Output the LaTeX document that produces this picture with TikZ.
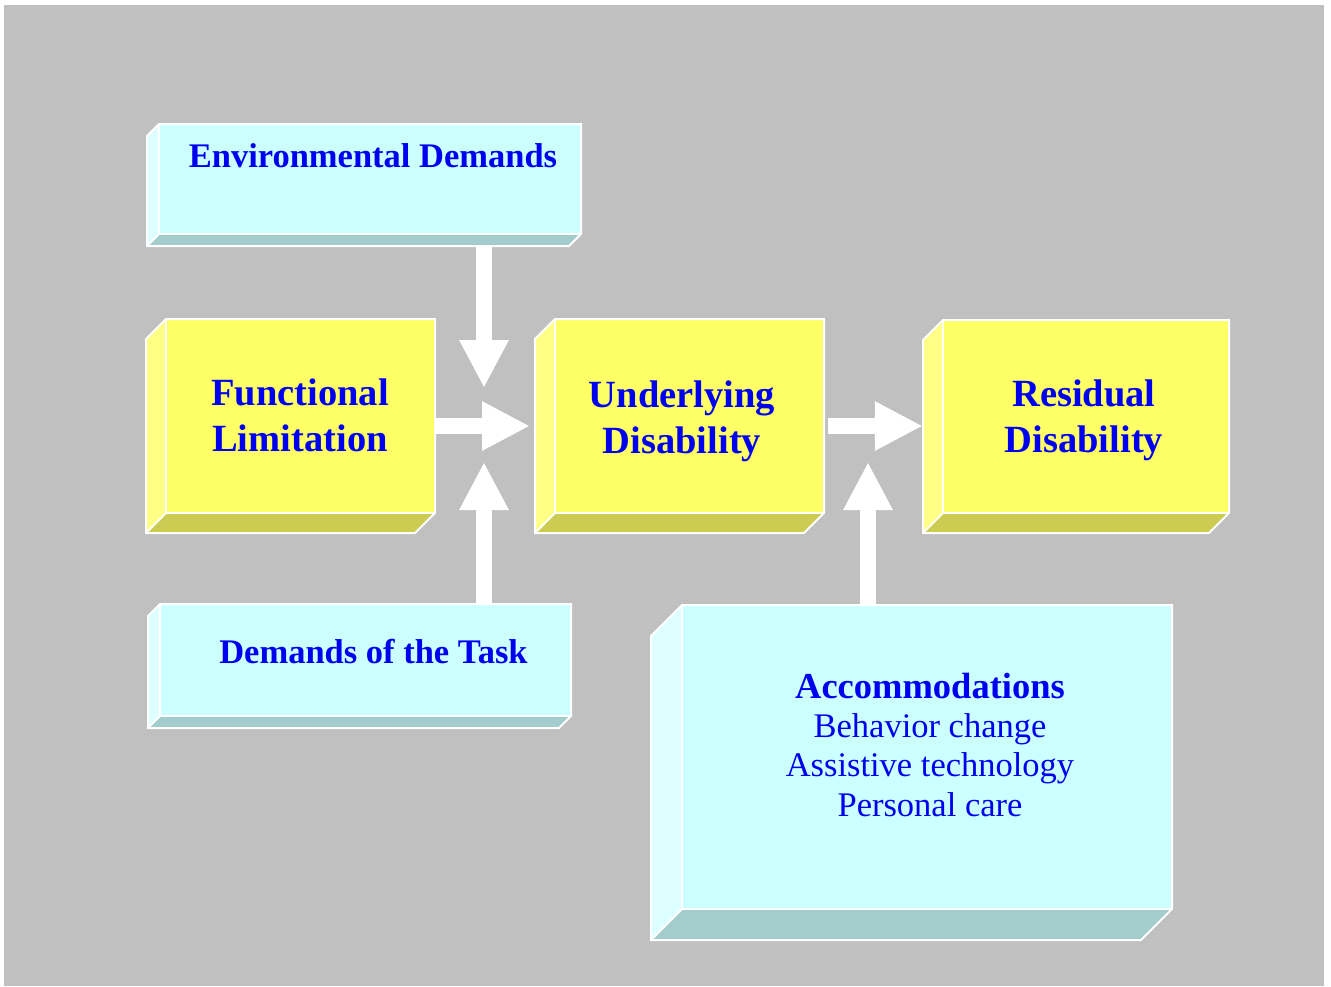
\documentclass[tikz,border=0pt]{standalone}
\usepackage{fontspec}
\setmainfont{Liberation Serif}
\usetikzlibrary{arrows.meta,fit}

\definecolor{slide}{HTML}{C0C0C0}
\definecolor{cyanfront}{HTML}{CCFFFF}
\definecolor{cyanside}{HTML}{DDFFFF}
\definecolor{cyanbottom}{HTML}{A3CCCC}
\definecolor{yelfront}{HTML}{FFFF66}
\definecolor{yelside}{HTML}{FFFF85}
\definecolor{yelbottom}{HTML}{CCCC52}
\definecolor{labelblue}{HTML}{0000F0}

\tikzset{
  face/.style={draw=white, line width=2pt, line join=miter},
  blockarrow/.style={draw=white, line width=16pt,
    -{Triangle[width=46pt,length=48pt]}},
  boldlabel/.style={text=labelblue, font=\bfseries\fontsize{34.5}{40}\selectfont,
    inner sep=0pt, anchor=base},
  biglabel/.style={text=labelblue, font=\bfseries\fontsize{38.5}{46}\selectfont,
    inner sep=0pt, align=center, anchor=base},
  listlabel/.style={text=labelblue, font=\fontsize{34.5}{39.3}\selectfont,
    inner sep=0pt, align=center, anchor=base},
}

% \cubebox{name}{x1}{y1}{x2}{y2}{depth}{front}{side}{bottom}
\newcommand\cubebox[9]{%
  \fill[#8] (#2,#3+#6) -- (#2+#6,#3) -- (#2+#6,#5-#6) -- (#2,#5) -- cycle;
  \fill[#9] (#2+#6,#5-#6) -- (#4,#5-#6) -- (#4-#6,#5) -- (#2,#5) -- cycle;
  \fill[#7] (#2+#6,#3) rectangle (#4,#5-#6);
  \draw[face] (#2,#3+#6) -- (#2+#6,#3) -- (#4,#3) -- (#4,#5-#6) -- (#4-#6,#5)
    -- (#2,#5) -- cycle;
  \draw[face] (#2+#6,#3) -- (#2+#6,#5-#6) -- (#4,#5-#6);
  \draw[face] (#2+#6,#5-#6) -- (#2,#5);
  \coordinate (#1-nw) at (#2,#3);
  \coordinate (#1-se) at (#4,#5);
  \node[fit=(#1-nw)(#1-se), inner sep=0pt] (#1) {};
}

\begin{document}
\begin{tikzpicture}[x=1pt,y=-1pt]
  \useasboundingbox (0,0) rectangle (1331,986);
  \fill[slide] (4,5) rectangle (1324,986);

  % boxes
  \cubebox{env}{147}{124}{581}{246}{12}{cyanfront}{cyanside}{cyanbottom}
  \cubebox{func}{146}{319}{435}{533}{20}{yelfront}{yelside}{yelbottom}
  \cubebox{under}{535}{319}{824}{533}{20}{yelfront}{yelside}{yelbottom}
  \cubebox{resid}{923}{320}{1229}{533}{20}{yelfront}{yelside}{yelbottom}
  \cubebox{task}{148}{604}{571}{728}{12}{cyanfront}{cyanside}{cyanbottom}
  \cubebox{accom}{651}{605}{1172}{940}{31}{cyanfront}{cyanside}{cyanbottom}

  % arrow tips
  \coordinate (tipdown) at (484,388);
  \coordinate (tipright) at (530,426);
  \coordinate (tipup) at (484,462);
  \coordinate (tipresid) at (923,426);
  \coordinate (tipaccom) at (868,462);
  \coordinate (startresid) at (828,426);

  % arrows
  \draw[blockarrow] (env.south -| tipdown) -- (tipdown);
  \draw[blockarrow] (func.east |- tipright) -- (tipright);
  \draw[blockarrow] (task.north -| tipup) -- (tipup);
  \draw[blockarrow] (startresid) -- (resid.west |- tipresid);
  \draw[blockarrow] (accom.north -| tipaccom) -- (tipaccom);

  % labels (multi-line labels are placed by their last baseline)
  \node[boldlabel] (envtext) at (373,167) {Environmental Demands};
  \node[boldlabel] (tasktext) at (373.5,663) {Demands of the Task};
  \node[biglabel] (functext) at (300,451) {Functional\\Limitation};
  \node[biglabel] (undertext) at (682,453) {Underlying\\Disability};
  \node[biglabel] (residtext) at (1084,452) {Residual\\Disability};
  \node[listlabel] (accomtext) at (930,816)
    {{\bfseries\fontsize{36.5}{39.3}\selectfont Accommodations}\\
     Behavior change\\Assistive technology\\Personal care};
\end{tikzpicture}
\end{document}
